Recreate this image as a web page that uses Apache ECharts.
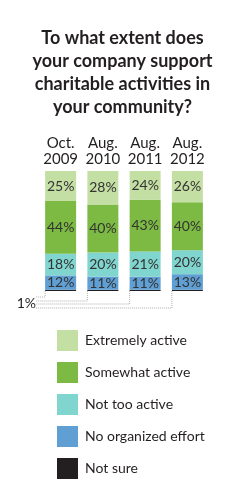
<!DOCTYPE html>
<html>
<head>
<meta charset="utf-8">
<script src="https://cdn.jsdelivr.net/npm/echarts@6/dist/echarts.min.js"></script>
<style>
  html, body { margin: 0; padding: 0; background: #fff; }
  #chart { width: 245px; height: 500px; }
</style>
</head>
<body>
<div id="chart"></div>
<script>
// 数据
const categories = ["Oct.\n2009", "Aug.\n2010", "Aug.\n2011", "Aug.\n2012"];
const extremelyActive = [25, 28, 24, 26];
const somewhatActive = [44, 40, 43, 40];
const notTooActive = [18, 20, 21, 20];
const noOrganized = [12, 11, 11, 13];
const notSure = [1, 1, 1, 1];

const font = "Lato, 'Open Sans', sans-serif";
const chart = echarts.init(document.getElementById("chart"));

function seg(name, data, color, showLabel) {
  return {
    name: name,
    type: "bar",
    stack: "total",
    barWidth: 31,
    data: data,
    itemStyle: { color: color },
    label: {
      show: showLabel,
      formatter: "{c}%",
      color: "#333",
      fontSize: 14,
      fontFamily: font,
    },
    emphasis: { disabled: true },
  };
}

const option = {
  backgroundColor: "#fff",
  animation: false,
  title: {
    text: "To what extent does\nyour company support\ncharitable activities in\nyour community?",
    left: "center",
    top: 22,
    textStyle: {
      fontFamily: font,
      fontWeight: "bold",
      fontSize: 18,
      lineHeight: 23,
      color: "#231f20",
    },
  },
  legend: {
    orient: "vertical",
    left: 52,
    top: 325,
    itemWidth: 21,
    itemHeight: 21,
    itemGap: 11,
    icon: "rect",
    selectedMode: false,
    data: ["Extremely active", "Somewhat active", "Not too active", "No organized effort", "Not sure"],
    textStyle: { fontFamily: font, fontSize: 14, color: "#231f20", padding: [0, 0, 0, 2] },
  },
  grid: { left: 39.5, width: 169, top: 171, bottom: 209 },
  xAxis: {
    type: "category",
    position: "top",
    data: categories,
    axisLine: { show: false },
    axisTick: { show: false },
    axisLabel: {
      interval: 0,
      fontFamily: font,
      fontSize: 15,
      lineHeight: 16,
      color: "#231f20",
      margin: 4,
    },
  },
  yAxis: { type: "value", min: 0, max: 100, show: false },
  series: [
    seg("Not sure", notSure, "#231f20", false),
    seg("No organized effort", noOrganized, "#5f9fd3", true),
    seg("Not too active", notTooActive, "#80d5ce", true),
    seg("Somewhat active", somewhatActive, "#7cba43", true),
    seg("Extremely active", extremelyActive, "#c4dfa4", true),
  ],
};

chart.setOption(option);

// 1% 引线
const drops = [6, 10, 13, 17];
const labelX = 36;
const leaders = categories.map((c, i) => {
  const p = chart.convertToPixel({ gridIndex: 0 }, [i, 0]);
  const x = p[0] - 15.5;
  const y = p[1] + drops[i];
  return {
    type: "polyline",
    shape: { points: [[x, p[1]], [x, y], [labelX, y]] },
    style: { stroke: "#999", lineWidth: 0.8, lineDash: [1, 1], fill: null },
  };
});
const firstY = chart.convertToPixel({ gridIndex: 0 }, [0, 0])[1];
leaders.push({
  type: "text",
  x: labelX,
  y: firstY + 12,
  style: {
    text: notSure[0] + "%",
    fontFamily: font,
    fontSize: 14,
    fill: "#231f20",
    align: "right",
    verticalAlign: "middle",
  },
});
chart.setOption({ graphic: leaders });
</script>
</body>
</html>
